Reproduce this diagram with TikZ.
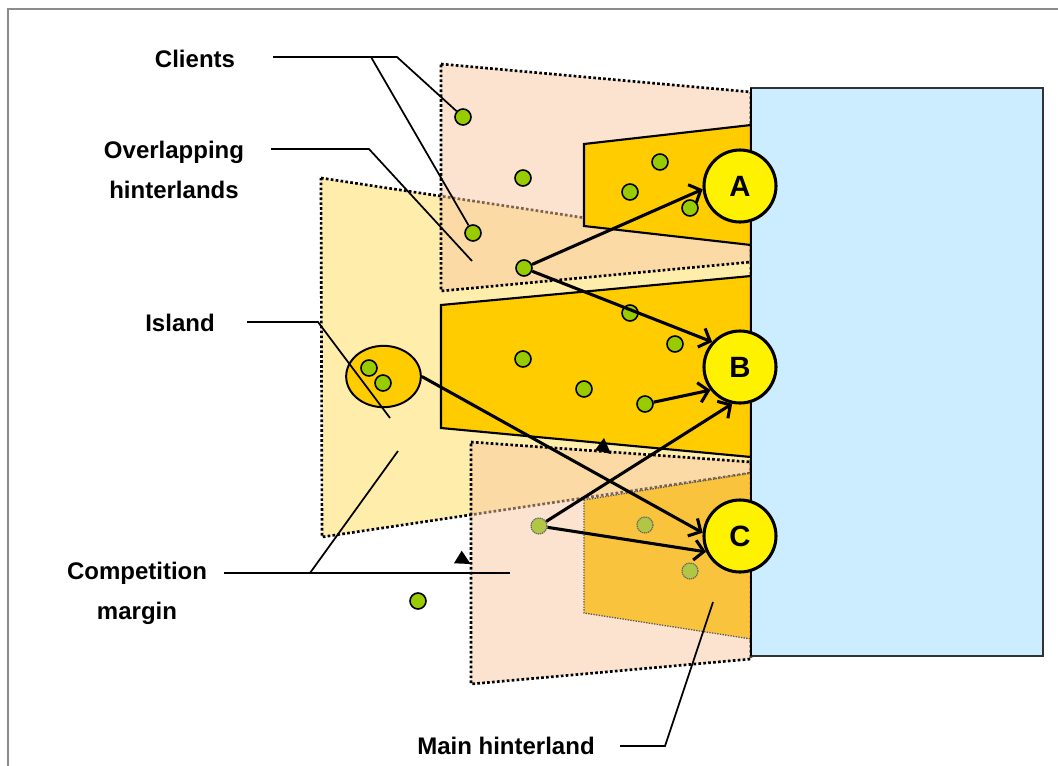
\documentclass[tikz,border=0pt]{standalone}
\usepackage{fontspec}
\setmainfont{Liberation Sans}
\usetikzlibrary{arrows.meta,shapes.geometric}
\definecolor{sea}{RGB}{204,236,255}
\definecolor{gold}{RGB}{255,204,0}
\definecolor{dotgreen}{RGB}{153,204,0}
\definecolor{fadedgreen}{RGB}{178,198,70}
\definecolor{peach}{RGB}{248,200,160}
\definecolor{paleyel}{RGB}{255,220,90}
\definecolor{mainorange}{RGB}{249,182,0}
\definecolor{framegray}{RGB}{140,140,140}
\begin{document}
\begin{tikzpicture}[x=0.75pt,y=-0.75pt,
  region/.style={draw=black,line width=2pt,dash pattern=on 2pt off 1.7pt},
  yelregion/.style={region,fill=paleyel,fill opacity=0.5},
  pinkregion/.style={region,fill=peach,fill opacity=0.5},
  mainregion/.style={fill=mainorange,fill opacity=0.7,draw=black!65,line width=1pt,dash pattern=on 1pt off 1pt},
  hinter/.style={fill=gold,draw=black,line width=1.6pt},
  client/.style={circle,draw=black,line width=1.2pt,fill=dotgreen,minimum size=12pt,inner sep=0pt},
  fadedclient/.style={circle,draw=black!60,line width=0.9pt,dash pattern=on 1pt off 0.6pt,fill=fadedgreen,minimum size=12pt,inner sep=0pt},
  port/.style={circle,draw=black,line width=2.3pt,fill=yellow,minimum size=54pt,inner sep=0pt,font=\fontsize{22}{26}\selectfont\bfseries},
  flow/.style={line width=2.3pt,-{Straight Barb[length=7pt,width=15pt]}},
  leader/.style={line width=1.3pt},
  lbl/.style={font=\fontsize{18}{30}\selectfont\bfseries,align=center,inner sep=0pt}]
\useasboundingbox (0,0) rectangle (1058,765);
% frame
\draw[framegray,line width=1.6pt] (8,800) -- (8,9) -- (1100,9);
% regions
\draw[yelregion] (321,178) -- (751,243) -- (751,473) -- (322,537) -- cycle;
\draw[pinkregion] (441,64) -- (751,92) -- (751,262) -- (441,291) -- cycle;
\draw[pinkregion] (471,442) -- (751,462) -- (751,659) -- (471,684) -- cycle;
\draw[mainregion] (584,500) -- (751,473) -- (751,639) -- (584,613) -- cycle;
\draw[hinter] (584,144) -- (751,125) -- (751,245) -- (584,226) -- cycle;
\draw[hinter] (441,305) -- (751,276) -- (751,457) -- (441,428) -- cycle;
% sea
\draw[fill=sea,draw=black!80,line width=1pt] (751,88) rectangle (1043,656);
\draw[black,line width=1.8pt] (751,88) -- (751,656);
% island
\node[ellipse,draw=black,line width=1.5pt,fill=gold,minimum width=56pt,minimum height=46pt,inner sep=0pt] (island) at (383.5,376.5) {};
% clients
\node[client] (c1) at (463,117) {};
\node[client] (c2) at (523,178) {};
\node[client] (c3) at (473,233) {};
\node[client] (c4) at (524,268) {};
\node[client] (c5) at (660,162) {};
\node[client] (c6) at (630,192) {};
\node[client] (c7) at (690,208) {};
\node[client] (c8) at (630,313) {};
\node[client] (c9) at (675,344) {};
\node[client] (c10) at (523,359) {};
\node[client] (c11) at (584,389) {};
\node[client] (c12) at (645,404) {};
\node[client] (i1) at (369,368) {};
\node[client] (i2) at (383,383) {};
\node[client] (c13) at (418,601) {};
\node[fadedclient] (f1) at (539,526) {};
\node[fadedclient] (f2) at (645,525) {};
\node[fadedclient] (f3) at (690,571) {};
% ports
\node[port] (A) at (740,186) {A};
\node[port] (B) at (740,367) {B};
\node[port] (C) at (740,536) {C};
% flows
\draw[flow] (c4) -- (A.185);
\draw[flow] (c4) -- (B.138);
\draw[flow] (c12) -- (B.218);
\draw[flow] (f1) -- (B.258);
\draw[flow] (island.east) -- (C.175);
\draw[flow] (f1) -- (C.205);
% triangles
\fill (604,438) -- (595,450) -- (611,454) -- cycle;
\fill (461.7,550.7) -- (454,563.3) -- (470.7,564) -- cycle;
% labels
\node[lbl] (clients) at (195,59) {Clients};
\node[lbl] (overlap) at (174,170) {Overlapping\\hinterlands};
\node[lbl] (islandlbl) at (180,323) {Island};
\node[lbl] (compet) at (137,593) {Competition\\margin};
\node[lbl] (mainh) at (506,746) {Main hinterland};
% leader lines
\coordinate (cl0) at (273,57);
\coordinate (cl1) at (371,57);
\coordinate (cl2) at (397,57);
\draw[leader] (cl0) -- (cl2) -- (c1);
\draw[leader] (cl1) -- (c3);
\coordinate (ov0) at (271,149);
\coordinate (ov1) at (369,149);
\coordinate (ov2) at (472,261);
\draw[leader] (ov0) -- (ov1) -- (ov2);
\coordinate (is0) at (247,322);
\coordinate (is1) at (318,322);
\coordinate (is2) at (390,418);
\draw[leader] (is0) -- (is1) -- (is2);
\coordinate (cm0) at (224,573);
\coordinate (cm1) at (310,573);
\coordinate (cm2) at (510,573);
\coordinate (cm3) at (398,451);
\draw[leader] (cm0) -- (cm2);
\draw[leader] (cm1) -- (cm3);
\coordinate (mh0) at (620,746);
\coordinate (mh1) at (665,746);
\coordinate (mh2) at (713,602);
\draw[leader] (mh0) -- (mh1) -- (mh2);
\end{tikzpicture}
\end{document}
